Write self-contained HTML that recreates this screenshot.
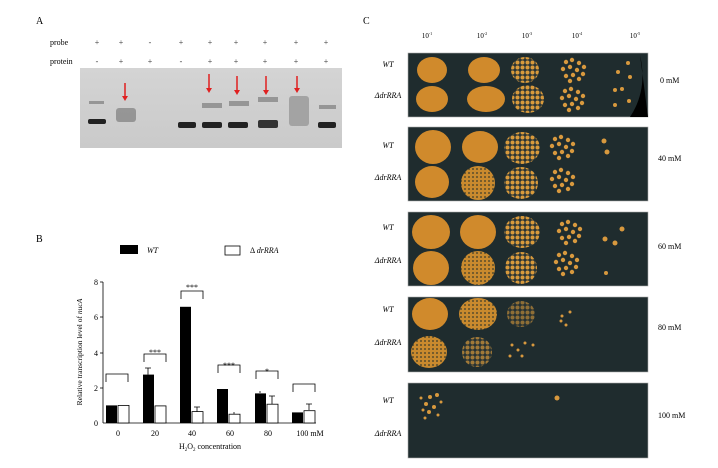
<!DOCTYPE html>
<html><head><style>body{margin:0;background:#fff}svg{display:block}text{font-family:"Liberation Serif",serif}</style></head><body>
<svg width="718" height="468" viewBox="0 0 718 468">
<defs>
<linearGradient id="gel" x1="0" y1="0" x2="0" y2="1"><stop offset="0" stop-color="#d4d4d4"/><stop offset="1" stop-color="#cacaca"/></linearGradient>
<pattern id="speck" width="4" height="4" patternUnits="userSpaceOnUse"><rect width="4" height="4" fill="#c98a2e"/><circle cx="1" cy="1" r="0.9" fill="#3a3a2a"/></pattern>
<pattern id="col" width="5" height="5" patternUnits="userSpaceOnUse"><rect width="5" height="5" fill="#2b3535"/><circle cx="2.5" cy="2.5" r="2" fill="#d89a3c"/></pattern>
<g id="dots4"><circle cx="-8" cy="-8" r="2.2"/><circle cx="-2" cy="-10" r="2.2"/><circle cx="5" cy="-7" r="2.2"/><circle cx="10" cy="-3" r="2.2"/><circle cx="-11" cy="-1" r="2.2"/><circle cx="-4" cy="-3" r="2.2"/><circle cx="3" cy="0" r="2.2"/><circle cx="9" cy="4" r="2.2"/><circle cx="-8" cy="6" r="2.2"/><circle cx="-1" cy="5" r="2.2"/><circle cx="5" cy="9" r="2.2"/><circle cx="-4" cy="11" r="2.2"/></g>
</defs>
<!-- Panel A -->
<text x="36" y="24" font-size="10">A</text>
<text x="50" y="45" font-size="8">probe</text>
<text x="50" y="64" font-size="8">protein</text>
<g font-size="8" text-anchor="middle" fill="#333">
<text x="97" y="45">+</text><text x="121" y="45">+</text><text x="150" y="45">-</text><text x="181" y="45">+</text><text x="210" y="45">+</text><text x="236" y="45">+</text><text x="265" y="45">+</text><text x="296" y="45">+</text><text x="326" y="45">+</text>
<text x="97" y="64">-</text><text x="121" y="64">+</text><text x="150" y="64">+</text><text x="181" y="64">-</text><text x="210" y="64">+</text><text x="236" y="64">+</text><text x="265" y="64">+</text><text x="296" y="64">+</text><text x="326" y="64">+</text>
</g>
<rect x="80" y="68" width="262" height="80" fill="url(#gel)"/>
<g fill="#222">
<rect x="88" y="119" width="18" height="5" rx="2"/><rect x="178" y="122" width="18" height="6" rx="2"/><rect x="202" y="122" width="20" height="6" rx="2"/><rect x="228" y="122" width="20" height="6" rx="2"/><rect x="258" y="120" width="20" height="8" rx="2" fill="#333"/><rect x="318" y="122" width="18" height="6" rx="2"/>
</g>
<g fill="#888" opacity="0.8">
<rect x="116" y="108" width="20" height="14" rx="3"/><rect x="202" y="103" width="20" height="5"/><rect x="229" y="101" width="20" height="5"/><rect x="258" y="97" width="20" height="5"/><rect x="289" y="96" width="20" height="30" rx="3" fill="#999"/><rect x="319" y="105" width="17" height="4"/><rect x="89" y="101" width="15" height="3"/>
</g>
<g stroke="#e02020" stroke-width="1.5" fill="#e02020">
<line x1="125" y1="83" x2="125" y2="98"/><polygon points="122,96 128,96 125,101" stroke="none"/>
<line x1="209" y1="74" x2="209" y2="90"/><polygon points="206,88 212,88 209,93" stroke="none"/>
<line x1="237" y1="76" x2="237" y2="92"/><polygon points="234,90 240,90 237,95" stroke="none"/>
<line x1="266" y1="76" x2="266" y2="92"/><polygon points="263,90 269,90 266,95" stroke="none"/>
<line x1="297" y1="76" x2="297" y2="90"/><polygon points="294,88 300,88 297,93" stroke="none"/>
</g>
<!-- Panel B -->
<text x="36" y="242" font-size="10">B</text>
<rect x="120" y="245" width="18" height="9" fill="#000"/><text x="147" y="253" font-size="8" font-style="italic">WT</text>
<rect x="225" y="246" width="15" height="9" fill="#fff" stroke="#000" stroke-width="0.8"/><text x="250" y="253" font-size="8">Δ <tspan font-style="italic">drRRA</tspan></text>
<g stroke="#000" stroke-width="0.8" fill="none">
<line x1="103" y1="282" x2="103" y2="423"/><line x1="103" y1="423" x2="316" y2="423"/>
<line x1="100" y1="282" x2="103" y2="282"/><line x1="100" y1="317" x2="103" y2="317"/><line x1="100" y1="353" x2="103" y2="353"/><line x1="100" y1="388" x2="103" y2="388"/>
</g>
<g font-size="8" text-anchor="end"><text x="98" y="285">8</text><text x="98" y="320">6</text><text x="98" y="356">4</text><text x="98" y="391">2</text><text x="98" y="426">0</text></g>
<text transform="translate(82,352) rotate(-90)" font-size="7.5" text-anchor="middle">Relative transcription level of <tspan font-style="italic">nucA</tspan></text>
<g font-size="8" text-anchor="middle"><text x="118" y="436">0</text><text x="155" y="436">20</text><text x="192" y="436">40</text><text x="230" y="436">60</text><text x="268" y="436">80</text><text x="310" y="436">100 mM</text></g>
<text x="210" y="449" font-size="8" text-anchor="middle">H<tspan font-size="5" dy="2">2</tspan><tspan dy="-2">O</tspan><tspan font-size="5" dy="2">2</tspan><tspan dy="-2"> concentration</tspan></text>
<g fill="#000">
<rect x="106" y="405.4" width="11" height="17.6"/><rect x="143" y="374.6" width="11" height="48.4"/><rect x="180" y="306.8" width="11" height="116.2"/><rect x="217" y="389" width="11" height="34"/><rect x="255" y="393.4" width="11" height="29.6"/><rect x="292" y="412.4" width="11" height="10.6"/>
</g>
<g fill="#fff" stroke="#000" stroke-width="0.8">
<rect x="118" y="405.4" width="11" height="17.6"/><rect x="155" y="405.9" width="11" height="17.1"/><rect x="192" y="411.6" width="11" height="11.4"/><rect x="229" y="414.2" width="11" height="8.8"/><rect x="267" y="404.2" width="11" height="18.8"/><rect x="304" y="410.7" width="11" height="12.3"/>
</g>
<g stroke="#000" stroke-width="0.8" fill="none">
<path d="M148 374.6V368M145 368h6M197 411.6V407M194 407h6M234 414V412M272 404V396M269 396h6M309 410V404M306 404h6M260 393V391"/>
<path d="M106 382v-8h22v8M144 362v-8h22v8M181 299v-8h22v8M218 373v-8h22v8M256 379v-8h22v8M293 392v-8h22v8"/>
</g>
<g font-size="8" text-anchor="middle"><text x="155" y="355">***</text><text x="192" y="290">***</text><text x="229" y="368">***</text><text x="267" y="374">*</text></g>
<!-- Panel C -->
<text x="363" y="24" font-size="10">C</text>
<g font-size="7" text-anchor="middle"><text x="427" y="38">10<tspan font-size="4" dy="-3">-1</tspan></text><text x="482" y="38">10<tspan font-size="4" dy="-3">-2</tspan></text><text x="527" y="38">10<tspan font-size="4" dy="-3">-3</tspan></text><text x="577" y="38">10<tspan font-size="4" dy="-3">-4</tspan></text><text x="635" y="38">10<tspan font-size="4" dy="-3">-5</tspan></text></g>
<g font-size="8" font-style="italic" text-anchor="middle">
<text x="388" y="67">WT</text><text x="388" y="98">Δ<tspan>drRRA</tspan></text>
<text x="388" y="148">WT</text><text x="388" y="180">ΔdrRRA</text>
<text x="388" y="230">WT</text><text x="388" y="263">ΔdrRRA</text>
<text x="388" y="312">WT</text><text x="388" y="345">ΔdrRRA</text>
<text x="388" y="403">WT</text><text x="388" y="436">ΔdrRRA</text>
</g>
<g font-size="8"><text x="660" y="83">0 mM</text><text x="658" y="161">40 mM</text><text x="658" y="249">60 mM</text><text x="658" y="330">80 mM</text><text x="658" y="418">100 mM</text></g>
<g fill="#1f2c2e" stroke="#aaa" stroke-width="0.6">
<rect x="408" y="53" width="240" height="64"/><rect x="408" y="127" width="240" height="74"/><rect x="408" y="212" width="240" height="74"/><rect x="408" y="297" width="240" height="75"/><rect x="408" y="383" width="240" height="75"/>
</g>
<g fill="#d08a2c">
<ellipse cx="432" cy="70" rx="15" ry="13"/><ellipse cx="484" cy="70" rx="16" ry="13"/><ellipse cx="432" cy="99" rx="16" ry="13"/><ellipse cx="486" cy="99" rx="19" ry="13"/>
<ellipse cx="433" cy="147" rx="18" ry="17"/><ellipse cx="480" cy="147" rx="18" ry="16"/><ellipse cx="432" cy="182" rx="17" ry="16"/>
<ellipse cx="431" cy="232" rx="19" ry="17"/><ellipse cx="478" cy="232" rx="18" ry="17"/><ellipse cx="431" cy="268" rx="18" ry="17"/>
<ellipse cx="430" cy="314" rx="18" ry="16"/>
</g>
<g fill="url(#speck)"><ellipse cx="478" cy="183" rx="17" ry="17"/><ellipse cx="478" cy="268" rx="17" ry="17"/><ellipse cx="478" cy="314" rx="19" ry="16"/><ellipse cx="429" cy="352" rx="18" ry="16"/></g>
<g fill="url(#col)"><ellipse cx="525" cy="70" rx="14" ry="13"/><ellipse cx="528" cy="99" rx="16" ry="14"/><ellipse cx="522" cy="148" rx="18" ry="16"/><ellipse cx="521" cy="183" rx="17" ry="16"/><ellipse cx="522" cy="232" rx="18" ry="16"/><ellipse cx="521" cy="268" rx="16" ry="16"/><ellipse cx="477" cy="352" rx="15" ry="15" opacity="0.7"/><ellipse cx="521" cy="314" rx="14" ry="13" opacity="0.6"/></g>
<g fill="#d8993e">
<use href="#dots4" x="574" y="70"/><use href="#dots4" x="573" y="99"/><use href="#dots4" x="563" y="147"/><use href="#dots4" x="563" y="180"/><use href="#dots4" x="570" y="232"/><use href="#dots4" x="567" y="263"/>
<circle cx="628" cy="63" r="2"/><circle cx="618" cy="72" r="2"/><circle cx="630" cy="77" r="2"/><circle cx="615" cy="90" r="2"/><circle cx="622" cy="89" r="2"/><circle cx="615" cy="105" r="2"/><circle cx="629" cy="101" r="2"/>
<circle cx="604" cy="141" r="2.5"/><circle cx="607" cy="152" r="2.5"/><circle cx="622" cy="229" r="2.5"/><circle cx="605" cy="239" r="2.5"/><circle cx="615" cy="243" r="2.5"/><circle cx="606" cy="273" r="2"/>
<circle cx="562" cy="316" r="1.5"/><circle cx="570" cy="312" r="1.5"/><circle cx="561" cy="321" r="1.5"/><circle cx="566" cy="325" r="1.5"/><circle cx="512" cy="345" r="1.5"/><circle cx="518" cy="350" r="1.5"/><circle cx="525" cy="343" r="1.5"/><circle cx="510" cy="356" r="1.5"/><circle cx="522" cy="356" r="1.5"/><circle cx="533" cy="345" r="1.5"/>
<circle cx="557" cy="398" r="2.5"/>
<circle cx="430" cy="397" r="2"/><circle cx="426" cy="404" r="2"/><circle cx="434" cy="407" r="2"/><circle cx="429" cy="412" r="2"/><circle cx="437" cy="395" r="2"/><circle cx="421" cy="398" r="1.5"/><circle cx="423" cy="410" r="1.5"/><circle cx="438" cy="415" r="1.5"/><circle cx="425" cy="418" r="1.5"/><circle cx="441" cy="402" r="1.5"/>
</g>
<path d="M640 55 Q648 90 630 117 L648 117Z" fill="#000"/>
</svg>
</body></html>
